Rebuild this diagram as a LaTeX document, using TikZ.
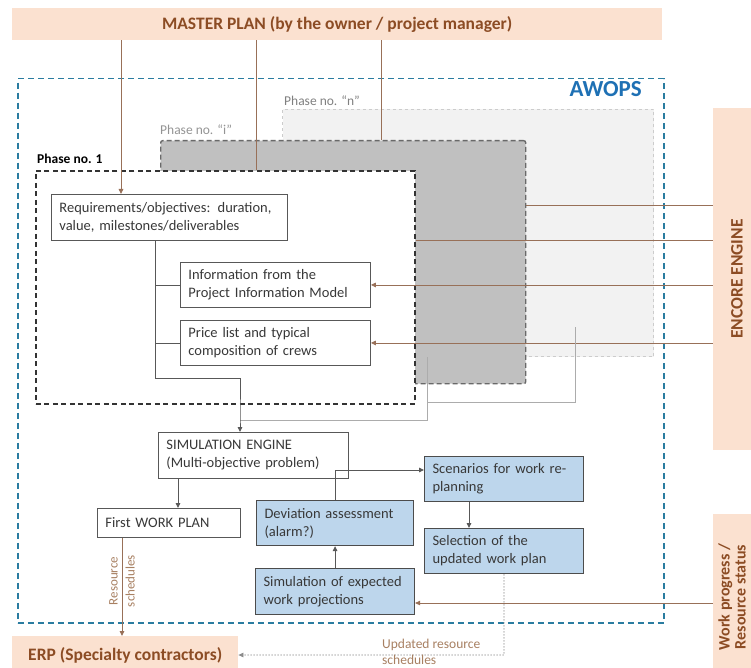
\documentclass[tikz,border=0pt]{standalone}
\usepackage{fontspec}
\setmainfont{Carlito}
\usetikzlibrary{arrows.meta}

\definecolor{peach}{RGB}{251,225,208}
\definecolor{browntext}{RGB}{140,76,36}
\definecolor{brownline}{RGB}{152,112,88}
\definecolor{awopsblue}{RGB}{42,124,160}
\definecolor{awopstext}{RGB}{30,112,180}
\definecolor{boxblue}{RGB}{189,214,236}
\definecolor{boxline}{RGB}{88,88,88}
\definecolor{phifill}{RGB}{192,192,192}
\definecolor{philine}{RGB}{105,105,105}
\definecolor{phnfill}{RGB}{242,242,242}
\definecolor{phnline}{RGB}{204,204,204}
\definecolor{lightline}{RGB}{172,172,172}
\definecolor{labeltan}{RGB}{168,128,98}

\begin{document}
\begin{tikzpicture}[x=1pt, y=-1pt,
  bar/.style={fill=peach, text=browntext, inner sep=0pt, font=\bfseries\fontsize{17.5}{19}\selectfont},
  box/.style={draw=boxline, line width=0.9pt, fill=white, anchor=north west, align=left,
    inner xsep=8pt, inner ysep=2pt, text=black!78, font=\fontsize{14.5}{18}\selectfont},
  bbox/.style={box, fill=boxblue, draw=black!70, line width=1.1pt},
  phlabel/.style={anchor=west, inner sep=0pt, font=\fontsize{13.5}{16}\selectfont},
  conn/.style={draw=boxline, line width=0.9pt},
  lconn/.style={draw=lightline, line width=0.9pt},
  bconn/.style={draw=brownline, line width=0.9pt},
  arrowed/.style={-{Triangle[length=5pt,width=4.5pt]}}]

\useasboundingbox (0,0) rectangle (751,668);
\clip (0,0) rectangle (751,668);
\fill[white] (0,0) rectangle (751,668);

% 外框 AWOPS
\node[draw=awopsblue, line width=1.5pt, dash pattern=on 6pt off 4pt, inner sep=0pt,
  minimum width=646pt, minimum height=544pt, anchor=north west] (awops) at (17,78) {};
\node[anchor=east, inner sep=0pt, text=awopstext, font=\bfseries\fontsize{23}{25}\selectfont] (awopslabel) at (642,89) {AWOPS};

% 三个阶段
\node[fill=phnfill, draw=phnline, line width=1pt, dashed, inner sep=0pt,
  minimum width=371pt, minimum height=247pt, anchor=north west] (phn) at (282,109) {};
\node[phlabel, text=black!50] (phnlabel) at (284,101) {Phase no. “n”};
\node[fill=phifill, draw=philine, line width=1.4pt, dash pattern=on 5pt off 3pt, rounded corners=2pt, inner sep=0pt,
  minimum width=365pt, minimum height=243pt, anchor=north west] (phi) at (160,140) {};
\node[phlabel, text=black!42] (philabel) at (160,130) {Phase no. “i”};
\node[fill=white, draw=black!80, line width=1.8pt, dash pattern=on 5pt off 3.5pt, inner sep=0pt,
  minimum width=379pt, minimum height=233pt, anchor=north west] (ph1) at (35,170) {};
\node[phlabel, font=\bfseries\fontsize{13.5}{16}\selectfont] (ph1label) at (37,159) {Phase no. 1};

% 外部系统
\node[bar, minimum width=650pt, minimum height=32pt, anchor=north west] (master) at (12,8) {MASTER PLAN (by the owner / project manager)};
\node[bar, rotate=90, minimum width=342pt, minimum height=48pt] (encore) at (737,279) {ENCORE ENGINE};
\node[bar, minimum width=166pt, minimum height=50pt, rotate=90] (progress) at (738,597) {};
\node[rotate=90, align=center, inner sep=0pt, text=browntext,
  font=\bfseries\fontsize{16}{16}\selectfont] (progresslabel) at (732,597) {Work progress /\\Resource status};
\node[bar, minimum width=226pt, minimum height=38pt, anchor=north west] (erp) at (12,636) {ERP (Specialty contractors)};

% 方框
\node[box, text width=220pt, minimum height=46pt] (req) at (51,194) {Requirements/objectives: duration,\\value, milestones/deliverables};
\node[box, text width=174pt, minimum height=45pt] (info) at (180,262) {Information from the\\Project Information Model};
\node[box, text width=174pt, minimum height=45pt] (price) at (180,320) {Price list and typical\\composition of crews};
\node[box, text width=174pt, minimum height=46pt] (sim) at (158,432) {SIMULATION ENGINE\\(Multi-objective problem)};
\node[box, text width=127pt, minimum height=29pt] (first) at (97,508) {First WORK PLAN};
\node[bbox, text width=141pt, minimum height=45pt] (dev) at (256,500) {Deviation assessment\\(alarm?)};
\node[bbox, text width=143pt, minimum height=46pt] (simx) at (255,568) {Simulation of expected\\work projections};
\node[bbox, text width=143pt, minimum height=45pt] (scen) at (424,456) {Scenarios for work re-\\planning};
\node[bbox, text width=143pt, minimum height=45pt] (sel) at (424,528) {Selection of the\\updated work plan};

% 连线
\coordinate (mp1) at (121,0);
\coordinate (mp2) at (256,0);
\coordinate (mp3) at (381,0);
\draw[bconn, arrowed] (mp1 |- master.south) -- (mp1 |- req.north);
\draw[bconn] (mp2 |- master.south) -- (mp2 |- ph1.north);
\draw[bconn] (mp3 |- master.south) -- (mp3 |- phi.north);

\coordinate (e1) at (0,205);
\coordinate (e2) at (0,240);
\draw[bconn] (encore.north |- e1) -- (phi.east |- e1);
\draw[bconn] (encore.north |- e2) -- (ph1.east |- e2);
\draw[bconn, arrowed] (encore.north |- info.east) -- (info.east);
\draw[bconn, arrowed] (encore.north |- price.east) -- (price.east);

\coordinate (gi) at (427,357);
\coordinate (gj) at (427,402);
\coordinate (gn) at (575,327);
\coordinate (simin) at (240,420);
\draw[lconn] (gn) |- (gj);
\draw[lconn] (gi) |- (simin);

\coordinate (bus) at (155,378);
\draw[conn] (bus |- info.west) -- (info.west);
\draw[conn] (bus |- price.west) -- (price.west);
\draw[conn, arrowed] (bus |- req.south) -- (bus) -| (simin) -- (simin |- sim.north);

\coordinate (sf) at (178,0);
\draw[conn, arrowed] (sf |- sim.south) -- (sf |- first.north);
\coordinate (dv) at (424,470);
\draw[conn, arrowed] (dev.north) |- (dv);
\draw[conn, arrowed] (simx.north) -- (dev.south);
\coordinate (ss) at (469,0);
\draw[conn, arrowed] (ss |- scen.south) -- (ss |- sel.north);

\coordinate (w1) at (0,603);
\draw[bconn, arrowed] (progress.north |- w1) -- (simx.east |- w1);

\coordinate (fe) at (122,0);
\draw[bconn, arrowed] (fe |- first.south) -- (fe |- erp.north);
\node[rotate=90, align=center, text=labeltan, inner sep=0pt, font=\fontsize{13}{17}\selectfont] (reslabel) at (122,581) {Resource\\schedules};

\coordinate (upd) at (504,655);
\draw[draw=black!45, line width=0.8pt, dash pattern=on 1.5pt off 1.5pt, arrowed] (sel.south) -- (upd) -- (upd -| erp.east);
\node[anchor=west, align=left, text=labeltan, inner sep=0pt, font=\fontsize{13.5}{16}\selectfont] (updlabel) at (382,652) {Updated resource\\schedules};

\end{tikzpicture}
\end{document}
